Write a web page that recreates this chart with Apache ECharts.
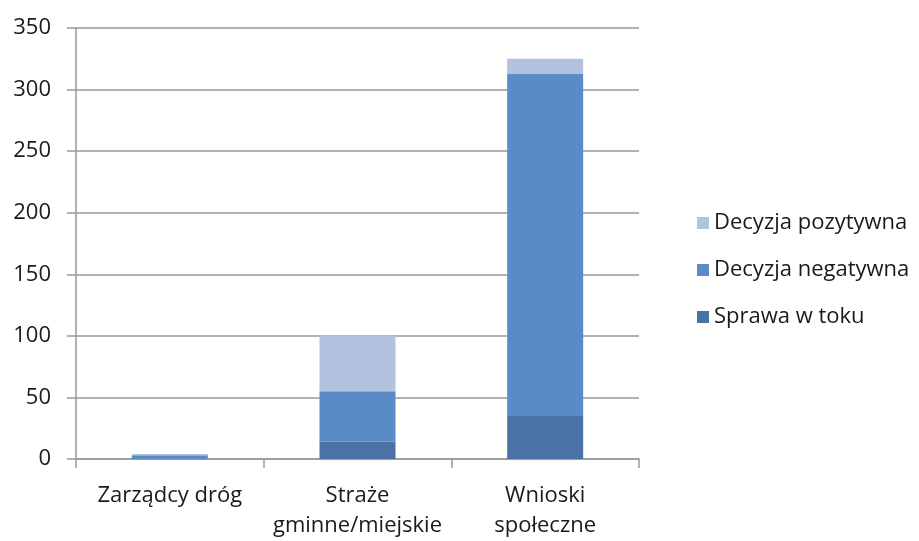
<!DOCTYPE html>
<html><head><meta charset="utf-8">
<script src="https://cdn.jsdelivr.net/npm/echarts@6/dist/echarts.min.js"></script>
<style>html,body{margin:0;padding:0;background:#fff}#c{width:919px;height:541px}</style>
</head><body><div id="c"></div>
<script>
const categories = ['Zarządcy dróg', 'Straże\ngminne/miejskie', 'Wnioski\nspołeczne'];
const sprawaWToku = [0, 14, 35];
const decyzjaNegatywna = [3, 41, 278];
const decyzjaPozytywna = [1, 45, 12];
const yTicks = [0, 50, 100, 150, 200, 250, 300, 350];

const FONT = '"Open Sans", sans-serif';
const chart = echarts.init(document.getElementById('c'), null, {renderer: 'canvas'});
chart.setOption({
  animation: false,
  backgroundColor: '#ffffff',
  grid: {left: 76, right: 280, top: 28, bottom: 78, containLabel: false},
  legend: {
    orient: 'vertical', left: 692, top: 204, itemGap: 19,
    itemWidth: 12, itemHeight: 12, icon: 'rect', itemStyle: {borderWidth: 0},
    textStyle: {fontFamily: FONT, fontSize: 22, color: '#1a1a1a', lineHeight: 28},
    data: ['Decyzja pozytywna', 'Decyzja negatywna', 'Sprawa w toku']
  },
  xAxis: {
    type: 'category', data: categories, boundaryGap: true,
    axisLine: {show: true, lineStyle: {color: '#999', width: 1.5}},
    axisTick: {show: true, length: 9, lineStyle: {color: '#999', width: 1.5}},
    axisLabel: {fontFamily: FONT, fontSize: 22, color: '#1a1a1a', margin: 22, lineHeight: 30, interval: 0}
  },
  yAxis: {
    type: 'value', min: 0, max: 350, interval: 50,
    axisLine: {show: true, lineStyle: {color: '#999', width: 1.5}},
    axisTick: {show: true, length: 9, lineStyle: {color: '#999', width: 1.5}},
    splitLine: {show: true, lineStyle: {color: '#999', width: 1.5}},
    axisLabel: {fontFamily: FONT, fontSize: 22, color: '#1a1a1a', margin: 25,
      formatter: v => yTicks.includes(v) ? String(v) : ''}
  },
  series: [
    {name: 'Sprawa w toku', type: 'bar', stack: 's', data: sprawaWToku, barWidth: 76,
      itemStyle: {color: '#4a72a6'}},
    {name: 'Decyzja negatywna', type: 'bar', stack: 's', data: decyzjaNegatywna, barWidth: 76,
      itemStyle: {color: '#5b8bc6'}},
    {name: 'Decyzja pozytywna', type: 'bar', stack: 's', data: decyzjaPozytywna, barWidth: 76,
      itemStyle: {color: '#b3c3df'}}
  ]
});
</script></body></html>
